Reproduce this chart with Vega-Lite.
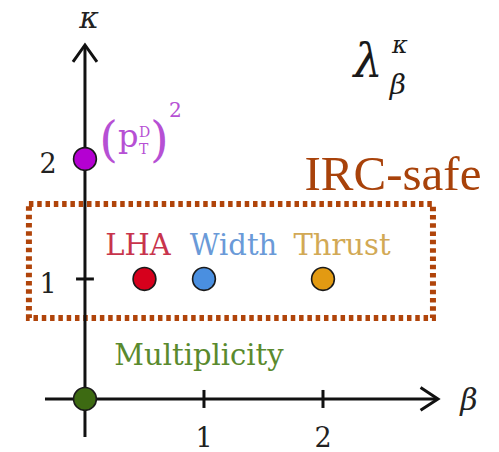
{
  "$schema": "https://vega.github.io/schema/vega-lite/v6.json",
  "width": 499,
  "height": 452,
  "padding": 0,
  "autosize": {"type": "none"},
  "background": "white",
  "config": {"view": {"stroke": null}},
  "datasets": {
    "segments": [
      {"part": "beta axis", "b1": -0.336, "b2": 2.955, "k1": 0, "k2": 0},
      {"part": "kappa axis", "b1": 0, "b2": 0, "k1": -0.317, "k2": 2.94},
      {"part": "tick b1", "b1": 1, "b2": 1, "k1": -0.075, "k2": 0.075},
      {"part": "tick b2", "b1": 2, "b2": 2, "k1": -0.075, "k2": 0.075},
      {"part": "tick k1", "b1": -0.075, "b2": 0.075, "k1": 1, "k2": 1}
    ],
    "arrowUp": [{"beta": 0, "kappa": 2.95}],
    "arrowRight": [{"beta": 2.966, "kappa": 0}],
    "box": [{"b1": -0.471, "b2": 2.924, "k1": 0.675, "k2": 1.625}],
    "observables": [
      {"name": "pTD2", "beta": 0, "kappa": 2},
      {"name": "LHA", "beta": 0.5, "kappa": 1, "lb": 0.445, "lk": 1.2},
      {"name": "Width", "beta": 1, "kappa": 1, "lb": 1.248, "lk": 1.2},
      {"name": "Thrust", "beta": 2, "kappa": 1, "lb": 2.16, "lk": 1.2},
      {"name": "Multiplicity", "beta": 0, "kappa": 0, "lb": 0.958, "lk": 0.285}
    ],
    "tickLabels": [
      {"t": "1", "beta": 1, "kappa": -0.4},
      {"t": "2", "beta": 2, "kappa": -0.4},
      {"t": "1", "beta": -0.31, "kappa": 0.883},
      {"t": "2", "beta": -0.31, "kappa": 1.883}
    ],
    "greek": [
      {"t": "κ", "beta": 0.034, "kappa": 3.09},
      {"t": "β", "beta": 3.227, "kappa": -0.092}
    ],
    "openParen": [{"t": "(", "beta": 0.277, "kappa": 2.025}],
    "closeParen": [{"t": ")", "beta": 0.546, "kappa": 2.025}],
    "pLetter": [{"t": "p", "beta": 0.277, "kappa": 2.1}],
    "pScripts": [
      {"t": "D", "beta": 0.454, "kappa": 2.18},
      {"t": "T", "beta": 0.454, "kappa": 2.045}
    ],
    "square": [{"t": "2", "beta": 0.706, "kappa": 2.35}],
    "lambda": [{"t": "λ", "beta": 2.378, "kappa": 2.683}],
    "lambdaSup": [{"t": "κ", "beta": 2.647, "kappa": 2.883}],
    "lambdaSub": [{"t": "β", "beta": 2.63, "kappa": 2.54}],
    "irc": [{"t": "IRC-safe", "beta": 2.588, "kappa": 1.742}]
  },
  "encoding": {
    "x": {"field": "beta", "type": "quantitative", "scale": {"domain": [-0.714, 3.479], "nice": false, "zero": false}, "axis": null},
    "y": {"field": "kappa", "type": "quantitative", "scale": {"domain": [-0.442, 3.325], "nice": false, "zero": false}, "axis": null}
  },
  "layer": [
    {
      "data": {"name": "box"},
      "mark": {"type": "rect", "fill": null, "filled": false, "stroke": "#b0440a", "strokeWidth": 6, "strokeDash": [4.5, 3.8]},
      "encoding": {
        "x": {"field": "b1", "type": "quantitative"},
        "x2": {"field": "b2"},
        "y": {"field": "k1", "type": "quantitative"},
        "y2": {"field": "k2"}
      }
    },
    {
      "data": {"name": "segments"},
      "mark": {"type": "rule", "color": "#111111", "strokeWidth": 3},
      "encoding": {
        "x": {"field": "b1", "type": "quantitative"},
        "x2": {"field": "b2"},
        "y": {"field": "k1", "type": "quantitative"},
        "y2": {"field": "k2"}
      }
    },
    {
      "data": {"name": "arrowUp"},
      "mark": {"type": "point", "shape": "M-1,1.4L0,0L1,1.4", "size": 576, "filled": false, "stroke": "#111111", "strokeWidth": 3, "strokeJoin": "miter", "opacity": 1}
    },
    {
      "data": {"name": "arrowRight"},
      "mark": {"type": "point", "shape": "M-1.45,-0.95L0,0L-1.45,0.95", "size": 576, "filled": false, "stroke": "#111111", "strokeWidth": 3, "strokeJoin": "miter", "opacity": 1}
    },
    {
      "data": {"name": "observables"},
      "mark": {"type": "point", "filled": true, "size": 520, "stroke": "#1a1a1a", "strokeWidth": 1.6, "opacity": 1},
      "encoding": {
        "fill": {"field": "name", "type": "nominal", "legend": null,
          "scale": {"domain": ["pTD2", "LHA", "Width", "Thrust", "Multiplicity"], "range": ["#b400d2", "#d6001c", "#4a8fe0", "#e29a12", "#3d6a12"]}}
      }
    },
    {
      "data": {"name": "observables"},
      "transform": [{"filter": "datum.lb != null"}],
      "mark": {"type": "text", "font": "DejaVu Serif", "fontSize": 29, "align": "center", "baseline": "alphabetic"},
      "encoding": {
        "x": {"field": "lb", "type": "quantitative"},
        "y": {"field": "lk", "type": "quantitative"},
        "text": {"field": "name"},
        "color": {"field": "name", "type": "nominal", "legend": null,
          "scale": {"domain": ["LHA", "Width", "Thrust", "Multiplicity"], "range": ["#c8344c", "#6a9ad8", "#d2a955", "#5a8a2e"]}}
      }
    },
    {
      "data": {"name": "tickLabels"},
      "mark": {"type": "text", "font": "DejaVu Serif", "fontSize": 27, "align": "center", "baseline": "alphabetic", "color": "#222222"},
      "encoding": {"text": {"field": "t"}}
    },
    {
      "data": {"name": "greek"},
      "mark": {"type": "text", "font": "DejaVu Serif", "fontStyle": "italic", "fontSize": 30, "align": "center", "baseline": "alphabetic", "color": "#222222"},
      "encoding": {"text": {"field": "t"}}
    },
    {
      "data": {"name": "openParen"},
      "mark": {"type": "text", "font": "DejaVu Serif", "fontSize": 48, "align": "right", "baseline": "alphabetic", "color": "#b650d4"},
      "encoding": {"text": {"field": "t"}}
    },
    {
      "data": {"name": "closeParen"},
      "mark": {"type": "text", "font": "DejaVu Serif", "fontSize": 48, "align": "left", "baseline": "alphabetic", "color": "#b650d4"},
      "encoding": {"text": {"field": "t"}}
    },
    {
      "data": {"name": "pLetter"},
      "mark": {"type": "text", "font": "DejaVu Serif", "fontSize": 32, "align": "left", "baseline": "alphabetic", "color": "#b650d4"},
      "encoding": {"text": {"field": "t"}}
    },
    {
      "data": {"name": "pScripts"},
      "mark": {"type": "text", "font": "DejaVu Serif", "fontSize": 14, "align": "left", "baseline": "alphabetic", "color": "#b650d4"},
      "encoding": {"text": {"field": "t"}}
    },
    {
      "data": {"name": "square"},
      "mark": {"type": "text", "font": "DejaVu Serif", "fontSize": 20, "align": "left", "baseline": "alphabetic", "color": "#b650d4"},
      "encoding": {"text": {"field": "t"}}
    },
    {
      "data": {"name": "lambda"},
      "mark": {"type": "text", "font": "DejaVu Serif", "fontStyle": "italic", "fontSize": 46, "align": "center", "baseline": "alphabetic", "color": "#1a1a1a"},
      "encoding": {"text": {"field": "t"}}
    },
    {
      "data": {"name": "lambdaSup"},
      "mark": {"type": "text", "font": "DejaVu Serif", "fontStyle": "italic", "fontSize": 24, "align": "center", "baseline": "alphabetic", "color": "#1a1a1a"},
      "encoding": {"text": {"field": "t"}}
    },
    {
      "data": {"name": "lambdaSub"},
      "mark": {"type": "text", "font": "DejaVu Serif", "fontStyle": "italic", "fontSize": 28, "align": "center", "baseline": "alphabetic", "color": "#1a1a1a"},
      "encoding": {"text": {"field": "t"}}
    },
    {
      "data": {"name": "irc"},
      "mark": {"type": "text", "font": "Liberation Serif", "fontSize": 49, "align": "center", "baseline": "alphabetic", "color": "#a8420a"},
      "encoding": {"text": {"field": "t"}}
    }
  ]
}
